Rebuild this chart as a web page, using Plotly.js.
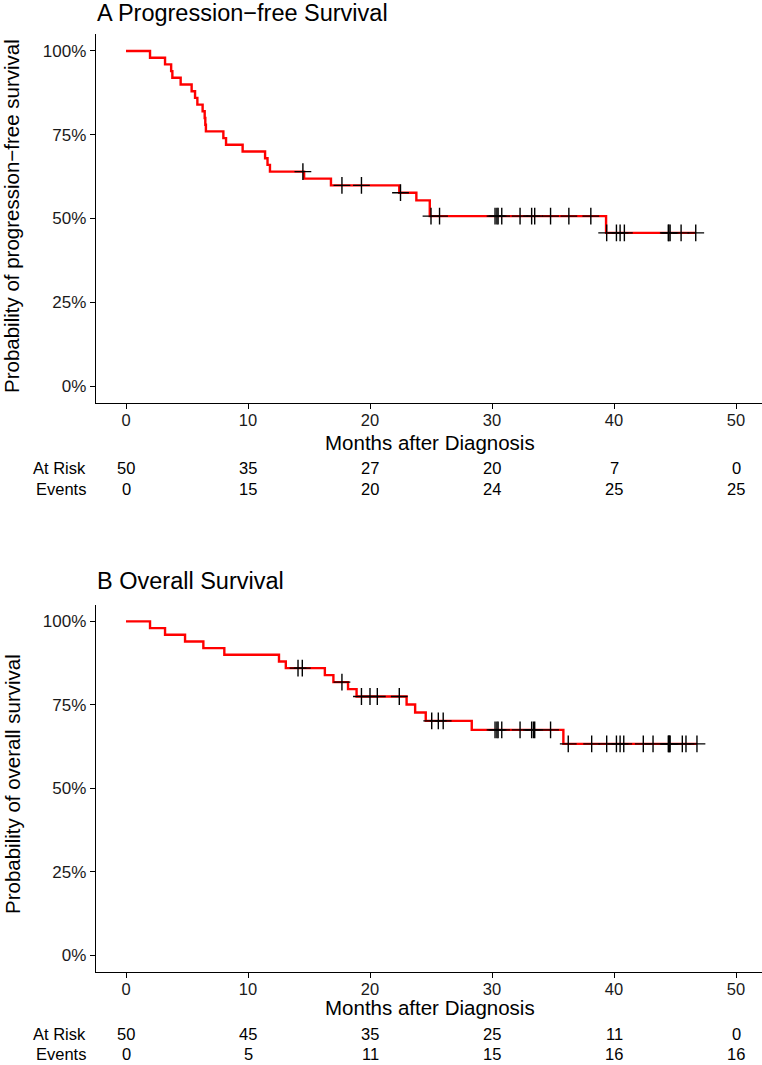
<!DOCTYPE html>
<html>
<head>
<meta charset="utf-8">
<script src="https://cdn.plot.ly/plotly-3.0.1.min.js"></script>
<style>html,body{margin:0;padding:0;background:#fff;}#chart{width:762px;height:1065px;}</style>
</head>
<body>
<div id="chart"></div>
<script>
// ---- Data ----
const riskTimes = [0, 10, 20, 30, 40, 50];

// Panel A: Progression-free survival (step times and survival after each step)
const pfsStepTimes = [0, 1.97, 3.2, 3.7, 3.8, 4.48, 5.38, 5.66, 5.85, 6.28, 6.45, 6.5, 6.55, 7.98, 8.2, 9.56, 11.4, 11.6, 11.8, 14.6, 16.8, 22.4, 23.8, 24.9, 39.35];
const pfsStepSurv  = [1, 0.98, 0.96, 0.94, 0.92, 0.90, 0.88, 0.86, 0.84, 0.82, 0.80, 0.78, 0.76, 0.74, 0.72, 0.70, 0.68, 0.66, 0.64, 0.619, 0.599, 0.577, 0.554, 0.507, 0.457];
const pfsCensorTimes = [14.5, 17.7, 19.3, 22.5, 25.0, 25.7, 30.25, 30.4, 30.5, 30.8, 32.3, 33.25, 33.5, 34.8, 36.3, 38.1, 39.4, 40.2, 40.5, 40.85, 44.45, 44.5, 44.6, 45.5, 46.7];
const pfsAtRisk = [50, 35, 27, 20, 7, 0];
const pfsEvents = [0, 15, 20, 24, 25, 25];

// Panel B: Overall survival
const osStepTimes = [0, 1.97, 3.2, 4.84, 6.34, 8.06, 12.54, 13.1, 16.3, 17.0, 18.2, 18.9, 23.0, 23.7, 24.57, 28.34, 35.85];
const osStepSurv  = [1, 0.98, 0.96, 0.94, 0.92, 0.90, 0.88, 0.86, 0.839, 0.818, 0.797, 0.775, 0.751, 0.727, 0.702, 0.675, 0.633];
const osCensorTimes = [14.1, 14.45, 17.7, 19.3, 20.0, 20.6, 22.4, 25.06, 25.6, 26.0, 30.25, 30.4, 30.5, 30.8, 32.3, 33.25, 33.4, 33.5, 34.8, 36.25, 38.17, 39.4, 40.2, 40.5, 40.8, 42.4, 43.2, 44.45, 44.5, 44.55, 44.6, 45.6, 45.9, 46.8];
const osAtRisk = [50, 45, 35, 25, 11, 0];
const osEvents = [0, 5, 11, 15, 16, 16];

const yTickVals = [0, 0.25, 0.5, 0.75, 1];
const yTickText = ['0%', '25%', '50%', '75%', '100%'];

const titleA = "A Progression\u2212free Survival";
const titleB = "B Overall Survival";
const yTitleA = "Probability of progression\u2212free survival";
const yTitleB = "Probability of overall survival";
const xTitle = "Months after Diagnosis";

// ---- helpers ----
function survAt(times, surv, t) {
  let s = surv[0];
  for (let i = 0; i < times.length; i++) { if (times[i] <= t) s = surv[i]; }
  return s;
}
const W = 762, H = 1065;
const py = px => 1 - px / H;
const FONT = "Liberation Sans, Arial, Helvetica, sans-serif";
const TICK = 16.5;

function curveTraces(stepT, stepS, cens, xa, ya) {
  const lastT = Math.max(cens[cens.length - 1], stepT[stepT.length - 1]);
  const lx = stepT.concat([lastT]);
  const ly = stepS.concat([stepS[stepS.length - 1]]);
  return [
    {x: lx, y: ly, xaxis: xa, yaxis: ya, type: 'scatter', mode: 'lines',
     line: {shape: 'hv', color: '#FF0000', width: 2.4}, hoverinfo: 'skip', showlegend: false},
    {x: cens, y: cens.map(t => survAt(stepT, stepS, t)), xaxis: xa, yaxis: ya, type: 'scatter', mode: 'markers',
     marker: {symbol: 'cross-thin', size: 12, line: {color: '#000000', width: 1.4}, color: '#000000'},
     hoverinfo: 'skip', showlegend: false}
  ];
}

const data = [].concat(
  curveTraces(pfsStepTimes, pfsStepSurv, pfsCensorTimes, 'x', 'y'),
  curveTraces(osStepTimes, osStepSurv, osCensorTimes, 'x2', 'y2')
);

// pixel geometry
const axL = 96, axR = 762;
const xRange = [-(126 - axL) / 12.2, 50 + (axR - 736) / 12.2];
const aTop = 34, aBot = 403;
const bTop = 604.5, bBot = 972;
const yRange = [-0.0507, 1.0507];

function xaxisDef(anchor) {
  return {
    domain: [axL / W, 1], range: xRange, anchor: anchor,
    showline: true, linecolor: '#000', linewidth: 1.3, mirror: false,
    showgrid: false, zeroline: false,
    ticks: 'outside', ticklen: 5, tickwidth: 1, tickcolor: '#000',
    tickvals: riskTimes, ticktext: riskTimes.map(String),
    ticklabelstandoff: -3,
    tickfont: {family: FONT, size: TICK, color: '#1a1a1a'}
  };
}
function yaxisDef(top, bot, anchor) {
  return {
    domain: [py(bot), py(top)], range: yRange, anchor: anchor,
    showline: true, linecolor: '#000', linewidth: 1.3,
    showgrid: false, zeroline: false,
    ticks: 'outside', ticklen: 5, tickwidth: 1, tickcolor: '#000',
    tickvals: yTickVals, ticktext: yTickText,
    tickfont: {family: FONT, size: TICK + 0.5, color: '#1a1a1a'}
  };
}

const ann = [];
function addPanelText(title, yTitle, atRisk, events, xref, offset, rowShift) {
  ann.push({text: title, xref: 'paper', yref: 'paper', x: 95 / W, y: py(13 + offset), xanchor: 'left', yanchor: 'middle',
    showarrow: false, font: {family: FONT, size: 23.5, color: '#000'}});
  ann.push({text: yTitle, xref: 'paper', yref: 'paper', x: 12 / W, y: py(216 + offset), xanchor: 'center', yanchor: 'middle',
    textangle: -90, showarrow: false, font: {family: FONT, size: 20.5, color: '#000'}});
  ann.push({text: xTitle, xref: 'paper', yref: 'paper', x: (126 + 304) / W, y: py(442 + offset + rowShift), xanchor: 'center', yanchor: 'middle',
    showarrow: false, font: {family: FONT, size: 20.5, color: '#000'}});
  const yRisk = 468 + offset + rowShift, yEv = 488.5 + offset + rowShift;
  ann.push({text: 'At Risk', xref: 'paper', yref: 'paper', x: 88 / W, y: py(yRisk), xanchor: 'right', yanchor: 'middle',
    showarrow: false, font: {family: FONT, size: TICK, color: '#000'}});
  ann.push({text: 'Events', xref: 'paper', yref: 'paper', x: 88 / W, y: py(yEv), xanchor: 'right', yanchor: 'middle',
    showarrow: false, font: {family: FONT, size: TICK, color: '#000'}});
  riskTimes.forEach((t, i) => {
    ann.push({text: String(atRisk[i]), xref: xref, yref: 'paper', x: t, y: py(yRisk), xanchor: 'center', yanchor: 'middle',
      showarrow: false, font: {family: FONT, size: TICK, color: '#000'}});
    ann.push({text: String(events[i]), xref: xref, yref: 'paper', x: t, y: py(yEv), xanchor: 'center', yanchor: 'middle',
      showarrow: false, font: {family: FONT, size: TICK, color: '#000'}});
  });
}
addPanelText(titleA, yTitleA, pfsAtRisk, pfsEvents, 'x', 0, 0);
addPanelText(titleB, yTitleB, osAtRisk, osEvents, 'x2', 568, -2.5);

const layout = {
  width: W, height: H,
  margin: {l: 0, r: 0, t: 0, b: 0, pad: 0},
  paper_bgcolor: '#fff', plot_bgcolor: '#fff',
  showlegend: false,
  xaxis: xaxisDef('y'),
  yaxis: yaxisDef(aTop, aBot, 'x'),
  xaxis2: xaxisDef('y2'),
  yaxis2: yaxisDef(bTop, bBot, 'x2'),
  annotations: ann
};

Plotly.newPlot('chart', data, layout, {displayModeBar: false, staticPlot: true});
</script>
</body>
</html>
